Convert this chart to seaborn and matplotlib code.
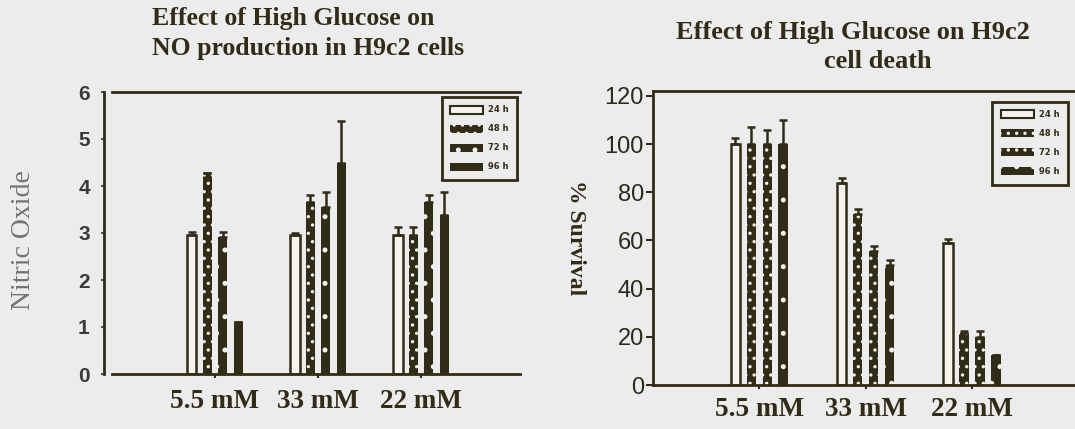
import matplotlib
matplotlib.use("Agg")
import matplotlib.pyplot as plt
import pandas as pd
import seaborn as sns
from matplotlib.patches import Patch

# ---- data -----------------------------------------------------------------
concentrations = ["5.5 mM", "33 mM", "22 mM"]
time_points = ["24 h", "48 h", "72 h", "96 h"]

# Nitric oxide production (one value per concentration)
no_24h = [2.95, 2.96, 2.96]
no_48h = [4.28, 3.66, 2.96]
no_72h = [2.91, 3.55, 3.66]
no_96h = [1.10, 4.49, 3.38]
no_err_24h = [0.07, 0.04, 0.17]
no_err_48h = [0.00, 0.15, 0.17]
no_err_72h = [0.11, 0.32, 0.15]
no_err_96h = [0.00, 0.90, 0.49]

# Cell survival (%)
surv_24h = [100, 84, 59]
surv_48h = [100, 71, 21.5]
surv_72h = [100, 55.5, 20]
surv_96h = [100, 50, 12.5]
surv_err_24h = [2.5, 2.0, 1.5]
surv_err_48h = [7.0, 2.0, 1.0]
surv_err_72h = [6.0, 2.0, 2.5]
surv_err_96h = [10.0, 2.0, 0.0]

no_values = [no_24h, no_48h, no_72h, no_96h]
no_errors = [no_err_24h, no_err_48h, no_err_72h, no_err_96h]
surv_values = [surv_24h, surv_48h, surv_72h, surv_96h]
surv_errors = [surv_err_24h, surv_err_48h, surv_err_72h, surv_err_96h]


def long_table(series):
    rows = []
    for t, vals in zip(time_points, series):
        for c, v in zip(concentrations, vals):
            rows.append({"conc": c, "time": t, "value": v})
    return pd.DataFrame(rows)


# ---- style ----------------------------------------------------------------
sns.set_style("white")
BG = "#ececec"
DARK = "#312c17"
LIGHT = "#f4f3ee"
plt.rcParams["hatch.linewidth"] = 1.2

fig = plt.figure(figsize=(10.75, 4.29), dpi=100, facecolor=BG)
W, H = 1075, 429
ax1 = fig.add_axes([112 / W, 55 / H, 408 / W, 282 / H], facecolor=BG)
ax2 = fig.add_axes([653 / W, 44 / H, 421 / W, 294 / H], facecolor=BG)

left_hatches = [None, "..", ".", None]
right_hatches = [None, "..", "..", "."]


def draw_panel(ax, values, errors, hatches):
    df = long_table(values)
    sns.barplot(data=df, x="conc", y="value", hue="time",
                order=concentrations, hue_order=time_points,
                width=0.6, gap=0.4, palette=[DARK] * 4, saturation=1,
                errorbar=None, legend=False, ax=ax)
    bar_groups = list(ax.containers)
    handles = []
    for i, cont in enumerate(bar_groups):
        xs, ys, errs = [], [], []
        for bar in cont.patches:
            cx = bar.get_x() + bar.get_width() / 2
            k = int(round(cx))
            if i == 0:
                bar.set_facecolor(LIGHT)
                bar.set_edgecolor(DARK)
                bar.set_linewidth(1.8)
            else:
                bar.set_facecolor(DARK)
                if hatches[i]:
                    bar.set_edgecolor(LIGHT)
                    bar.set_hatch(hatches[i])
                else:
                    bar.set_edgecolor(DARK)
                bar.set_linewidth(0)
            xs.append(cx)
            ys.append(values[i][k])
            errs.append(errors[i][k])
        ax.errorbar(xs, ys, yerr=[[0] * len(errs), errs], fmt="none",
                    ecolor=DARK, elinewidth=1.8, capsize=3, capthick=1.8,
                    zorder=3)
        if i == 0:
            handles.append(Patch(facecolor=LIGHT, edgecolor=DARK,
                                 linewidth=1.5, label=time_points[i]))
        elif hatches[i]:
            handles.append(Patch(facecolor=DARK, edgecolor=LIGHT,
                                 linewidth=0, hatch=hatches[i],
                                 label=time_points[i]))
        else:
            handles.append(Patch(facecolor=DARK, edgecolor=DARK,
                                 linewidth=0, label=time_points[i]))
    ax.set_xlabel("")
    ax.set_ylabel("")
    ax.set_xlim(-1.0, 2.96)
    for s in ("top", "bottom", "left"):
        ax.spines[s].set_visible(True)
        ax.spines[s].set_color(DARK)
        ax.spines[s].set_linewidth(2)
    ax.spines["right"].set_visible(False)
    return handles


h1 = draw_panel(ax1, no_values, no_errors, left_hatches)
h2 = draw_panel(ax2, surv_values, surv_errors, right_hatches)

# left panel axes
ax1.set_ylim(0, 6)
ax1.set_yticks(range(0, 7))
ax1.spines["left"].set_position(("outward", 6))
ax1.tick_params(axis="y", left=True, length=2, width=1.5, color="#555555",
                pad=8, labelsize=15, labelcolor="#3a3a3a")
for lab in ax1.get_yticklabels():
    lab.set_fontfamily("Liberation Sans")
    lab.set_fontweight("bold")
ax1.tick_params(axis="x", bottom=True, length=3, width=1.5, color=DARK,
                pad=8, labelsize=19.5, labelcolor=DARK)
for lab in ax1.get_xticklabels():
    lab.set_fontfamily("Liberation Serif")
    lab.set_fontweight("bold")

# right panel axes
ax2.set_ylim(0, 122)
ax2.set_yticks(range(0, 121, 20))
ax2.tick_params(axis="y", left=True, length=5, width=1.5, color=DARK,
                pad=1.5, labelsize=17, labelcolor="#2b2a1c")
for lab in ax2.get_yticklabels():
    lab.set_fontfamily("Liberation Sans")
ax2.tick_params(axis="x", bottom=True, length=3, width=1.5, color=DARK,
                pad=6, labelsize=19.5, labelcolor=DARK)
for lab in ax2.get_xticklabels():
    lab.set_fontfamily("Liberation Serif")
    lab.set_fontweight("bold")

legend_kw = dict(loc="upper right", fontsize=6, frameon=True, fancybox=False,
                 edgecolor=DARK, facecolor=BG, framealpha=1,
                 handlelength=4.0, handleheight=1.1, labelspacing=1.2,
                 borderpad=1.0, handletextpad=0.6, borderaxespad=0)
leg1 = ax1.legend(handles=h1, bbox_to_anchor=(0.993, 0.982), **legend_kw)
leg2 = ax2.legend(handles=h2, bbox_to_anchor=(0.986, 0.963), **legend_kw)
for leg in (leg1, leg2):
    leg.get_frame().set_linewidth(2)
    for t in leg.get_texts():
        t.set_fontweight("bold")
        t.set_color(DARK)

# titles and axis labels
title_kw = dict(fontweight="bold", family="Liberation Serif", color=DARK,
                va="center")
fig.text(152 / W, 1 - 18 / H, "Effect of High Glucose on",
         ha="left", fontsize=18.5, **title_kw)
fig.text(152 / W, 1 - 48 / H, "NO production in H9c2 cells",
         ha="left", fontsize=18.5, **title_kw)
fig.text(853 / W, 1 - 32 / H, "Effect of High Glucose on H9c2",
         ha="center", fontsize=19, **title_kw)
fig.text(878 / W, 1 - 61 / H, "cell death",
         ha="center", fontsize=19, **title_kw)
fig.text(24 / W, 1 - 240 / H, "Nitric Oxide", rotation=90,
         ha="center", va="center", fontsize=20, family="Liberation Serif",
         color="#737373")
fig.text(575 / W, 1 - 238 / H, "% Survival", rotation=270,
         ha="center", va="center", fontsize=17, fontweight="bold",
         family="Liberation Serif", color=DARK)

fig.savefig("out.png", dpi=100, facecolor=BG)
